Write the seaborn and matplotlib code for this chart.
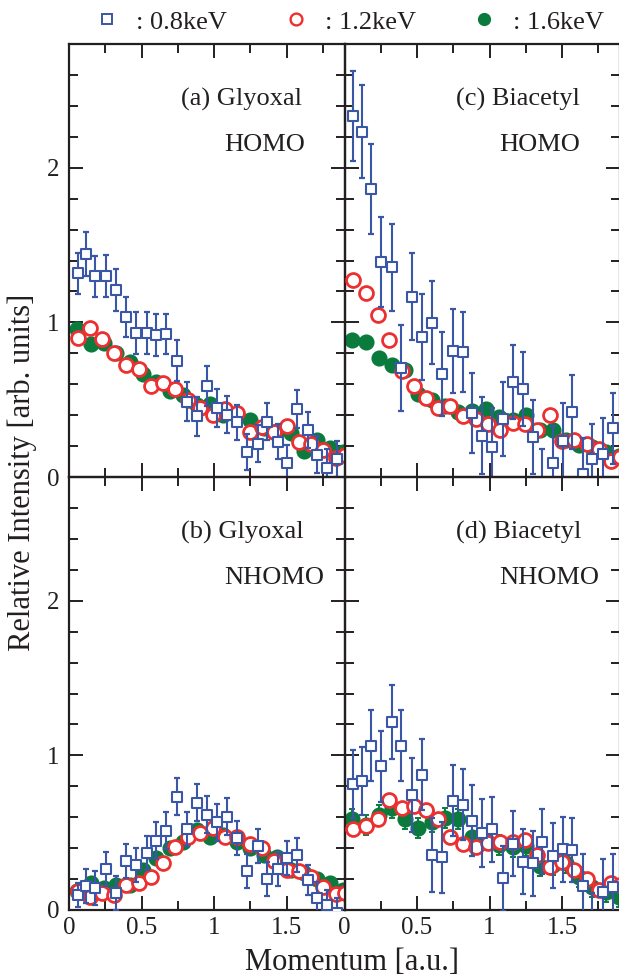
import matplotlib
matplotlib.use('Agg')
import matplotlib.pyplot as plt
from matplotlib.lines import Line2D
from matplotlib.ticker import MultipleLocator, FuncFormatter
import seaborn as sns

# ---------------- data ----------------
energies = [': 0.8keV', ': 1.2keV', ': 1.6keV']

mom_08 = [0.06, 0.12, 0.18, 0.255, 0.325, 0.39, 0.465, 0.535, 0.60, 0.67,
          0.745, 0.815, 0.88, 0.95, 1.02, 1.09, 1.16, 1.23, 1.30, 1.365,
          1.44, 1.505, 1.57, 1.645, 1.71, 1.78, 1.85]
mom_12 = [0.06, 0.145, 0.23, 0.31, 0.395, 0.48, 0.565, 0.645, 0.73, 0.82,
          0.905, 0.99, 1.075, 1.16, 1.245, 1.33, 1.415, 1.50, 1.585, 1.67,
          1.755, 1.84, 1.90]
mom_16 = [0.055, 0.15, 0.24, 0.325, 0.42, 0.51, 0.60, 0.695, 0.785, 0.88,
          0.975, 1.065, 1.16, 1.25, 1.345, 1.435, 1.53, 1.62, 1.71, 1.80, 1.89]

# (a) Glyoxal HOMO
a_08 = [1.316, 1.442, 1.297, 1.301, 1.210, 1.035, 0.929, 0.929, 0.916, 0.927,
        0.753, 0.487, 0.392, 0.587, 0.446, 0.403, 0.353, 0.160, 0.214, 0.358,
        0.229, 0.089, 0.440, 0.305, 0.143, 0.058, 0.115]
a_08_err = [0.13, 0.14, 0.135, 0.135, 0.135, 0.13, 0.135, 0.135, 0.135, 0.13,
            0.13, 0.125, 0.125, 0.13, 0.12, 0.12, 0.115, 0.115, 0.12, 0.12,
            0.115, 0.115, 0.12, 0.115, 0.12, 0.12, 0.115]
a_12 = [0.900, 0.965, 0.890, 0.799, 0.727, 0.699, 0.591, 0.608, 0.569, 0.500,
        0.446, 0.403, 0.440, 0.413, 0.294, 0.323, 0.294, 0.331, 0.229, 0.214,
        0.175, 0.121, 0.14]
a_16 = [0.959, 0.857, 0.864, 0.799, 0.742, 0.669, 0.612, 0.554, 0.532, 0.468,
        0.474, 0.403, 0.400, 0.370, 0.316, 0.300, 0.284, 0.171, 0.240, 0.186, 0.164]

# (c) Biacetyl HOMO
c_08 = [2.336, 2.232, 1.864, 1.392, 1.355, 0.706, 1.167, 0.905, 0.998, 0.667,
        0.814, 0.810, 0.413, 0.268, 0.193, 0.375, 0.613, 0.571, 0.258, -0.07,
        0.089, 0.236, 0.420, 0.019, 0.115, 0.149, 0.316]
c_08_err = [0.29, 0.30, 0.29, 0.29, 0.28, 0.28, 0.28, 0.28, 0.27, 0.27,
            0.27, 0.26, 0.26, 0.25, 0.25, 0.24, 0.24, 0.24, 0.24, 0.25,
            0.24, 0.24, 0.24, 0.23, 0.23, 0.23, 0.23]
c_12 = [1.275, 1.188, 1.045, 0.885, 0.684, 0.591, 0.511, 0.446, 0.461, 0.396,
        0.375, 0.344, 0.301, 0.349, 0.344, 0.305, 0.403, 0.236, 0.240, 0.214,
        0.180, 0.104, 0.132]
c_16 = [0.885, 0.872, 0.771, 0.727, 0.695, 0.539, 0.495, 0.461, 0.418, 0.424,
        0.440, 0.388, 0.370, 0.403, 0.301, 0.305, 0.240, 0.208, 0.193, 0.164, 0.136]

# (b) Glyoxal NHOMO
b_08 = [0.097, 0.155, 0.140, 0.267, 0.112, 0.319, 0.291, 0.371, 0.447, 0.513,
        0.733, 0.522, 0.695, 0.615, 0.567, 0.604, 0.468, 0.255, 0.414, 0.199,
        0.267, 0.339, 0.354, 0.194, 0.080, 0.032, -0.02]
b_08_err = [0.08, 0.11, 0.11, 0.11, 0.11, 0.11, 0.11, 0.11, 0.12, 0.12,
            0.12, 0.11, 0.12, 0.12, 0.12, 0.12, 0.11, 0.11, 0.11, 0.11,
            0.11, 0.11, 0.11, 0.10, 0.10, 0.10, 0.10]
b_12 = [0.125, 0.086, 0.108, 0.097, 0.162, 0.177, 0.211, 0.306, 0.406, 0.470,
        0.501, 0.528, 0.470, 0.475, 0.427, 0.399, 0.319, 0.259, 0.255, 0.216,
        0.147, 0.104, 0.11]
b_16 = [0.12, 0.172, 0.140, 0.162, 0.162, 0.260, 0.334, 0.399, 0.442, 0.518,
        0.475, 0.485, 0.442, 0.399, 0.356, 0.345, 0.259, 0.237, 0.198, 0.172, 0.129]

# (d) Biacetyl NHOMO
d_08 = [0.816, 0.837, 1.061, 0.928, 1.215, 1.061, 0.744, 0.874, 0.356, 0.341,
        0.706, 0.680, 0.576, 0.496, 0.522, 0.205, 0.427, 0.313, 0.302, 0.442,
        0.350, 0.393, 0.388, 0.155, -0.10, 0.119, 0.151]
d_08_err = [0.22, 0.22, 0.23, 0.23, 0.24, 0.23, 0.24, 0.23, 0.24, 0.23,
            0.23, 0.23, 0.23, 0.22, 0.21, 0.21, 0.21, 0.21, 0.21, 0.21,
            0.21, 0.21, 0.21, 0.21, 0.21, 0.21, 0.21]
d_12 = [0.522, 0.544, 0.587, 0.712, 0.658, 0.673, 0.647, 0.587, 0.471, 0.427,
        0.410, 0.432, 0.442, 0.442, 0.453, 0.356, 0.276, 0.313, 0.259, 0.198,
        0.129, 0.172, 0.16]
d_16 = [0.587, 0.550, 0.615, 0.658, 0.587, 0.529, 0.572, 0.593, 0.587, 0.475,
        0.453, 0.421, 0.410, 0.415, 0.285, 0.291, 0.302, 0.216, 0.151, 0.119, 0.086]

# small error bars of the 1.2 / 1.6 keV sets, per panel
err_12 = {'a': 0.02, 'b': 0.02, 'c': 0.02, 'd': 0.035}
err_16 = {'a': 0.03, 'b': 0.03, 'c': 0.03, 'd': 0.065}

panel_titles = {'a': '(a) Glyoxal', 'b': '(b) Glyoxal',
                'c': '(c) Biacetyl', 'd': '(d) Biacetyl'}
panel_orbitals = {'a': 'HOMO', 'b': 'NHOMO', 'c': 'HOMO', 'd': 'NHOMO'}

# ---------------- style ----------------
sns.set_theme(style='ticks')
plt.rcParams['font.family'] = ['Liberation Serif', 'DejaVu Serif']
TXT = '#231f20'
BLUE = '#3a56a7'
RED = '#ee2f2f'
GREEN = '#0b7b3d'

fig = plt.figure(figsize=(6.19, 9.76), dpi=100)
FW, FH = 619.0, 976.0
L = 69 / FW
R0 = 344.5 / FW
W = 275.5 / FW
H = 433 / FH
B_top = 1 - 477 / FH
B_bot = 1 - 910 / FH
axes = {
    'a': fig.add_axes([L, B_top, W, H]),
    'c': fig.add_axes([R0, B_top, W, H]),
    'b': fig.add_axes([L, B_bot, W, H]),
    'd': fig.add_axes([R0, B_bot, W, H]),
}
data = {
    'a': (a_08, a_08_err, a_12, a_16),
    'b': (b_08, b_08_err, b_12, b_16),
    'c': (c_08, c_08_err, c_12, c_16),
    'd': (d_08, d_08_err, d_12, d_16),
}

fmt = FuncFormatter(lambda v, p: '%g' % v)

for key, ax in axes.items():
    y08, e08, y12, y16 = data[key]
    # 1.6 keV
    ax.errorbar(mom_16, y16, yerr=err_16[key], fmt='none', ecolor=GREEN,
                elinewidth=1.4, capsize=2.5, capthick=1.4, zorder=2)
    sns.scatterplot(x=mom_16, y=y16, ax=ax, marker='o', s=135, color=GREEN,
                    edgecolor=GREEN, linewidth=0, zorder=2.5)
    # 1.2 keV
    ax.errorbar(mom_12, y12, yerr=err_12[key], fmt='none', ecolor=RED,
                elinewidth=1.4, capsize=2.5, capthick=1.4, zorder=3)
    sns.scatterplot(x=mom_12, y=y12, ax=ax, marker='o', s=100, color='white',
                    edgecolor=RED, linewidth=2.0, zorder=3.5)
    # 0.8 keV
    ax.errorbar(mom_08, y08, yerr=e08, fmt='none', ecolor=BLUE,
                elinewidth=1.5, capsize=2.5, capthick=1.6, zorder=4)
    sns.scatterplot(x=mom_08, y=y08, ax=ax, marker='s', s=60, color='white',
                    edgecolor=BLUE, linewidth=1.5, zorder=4.5)

    ax.set_xlim(0, 1.9)
    ax.set_ylim(0, 2.8)
    ax.set_xlabel('')
    ax.set_ylabel('')
    ax.xaxis.set_major_locator(MultipleLocator(0.5))
    ax.xaxis.set_minor_locator(MultipleLocator(0.25))
    ax.yaxis.set_major_locator(MultipleLocator(1))
    ax.yaxis.set_minor_locator(MultipleLocator(0.2))
    ax.xaxis.set_major_formatter(fmt)
    ax.yaxis.set_major_formatter(fmt)
    ax.tick_params(which='both', direction='in', top=True, right=True,
                   bottom=True, left=True, width=1.4, color=TXT,
                   labelsize=18, labelcolor=TXT)
    ax.tick_params(which='major', length=10)
    ax.tick_params(which='minor', length=6.5)
    ax.tick_params(axis='x', pad=5)
    ax.tick_params(axis='y', pad=7)
    for sp in ax.spines.values():
        sp.set_linewidth(1.6)
        sp.set_color(TXT)
        sp.set_visible(True)
    if key in ('a', 'c'):
        ax.tick_params(labelbottom=False)
    if key in ('c', 'd'):
        ax.tick_params(labelleft=False)
    ax.set_facecolor('none')

    ax.text(0.77, 2.44, panel_titles[key], fontsize=19, color=TXT,
            ha='left', va='center')
    ax.text(1.07, 2.15, panel_orbitals[key], fontsize=19, color=TXT,
            ha='left', va='center')

# legend
handles = [
    Line2D([], [], ls='none', marker='s', ms=6.5, mfc='white', mec=BLUE, mew=1.4),
    Line2D([], [], ls='none', marker='o', ms=8.5, mfc='white', mec=RED, mew=1.7),
    Line2D([], [], ls='none', marker='o', ms=9.5, mfc=GREEN, mec=GREEN, mew=0),
]
leg = fig.legend(handles, energies, ncol=3, loc='center',
                 bbox_to_anchor=(349 / FW, 1 - 22 / FH), frameon=False,
                 fontsize=19, handlelength=1.0, handletextpad=0.6,
                 columnspacing=2.1, borderpad=0, borderaxespad=0)
for t in leg.get_texts():
    t.set_color(TXT)

fig.text(352 / FW, 1 - 962 / FH, 'Momentum [a.u.]', fontsize=22, color=TXT,
         ha='center', va='center')
fig.text(22 / FW, 1 - 472 / FH, 'Relative Intensity [arb. units]', fontsize=22,
         color=TXT, ha='center', va='center', rotation=90)

fig.savefig('out.png', dpi=100, facecolor='white')
